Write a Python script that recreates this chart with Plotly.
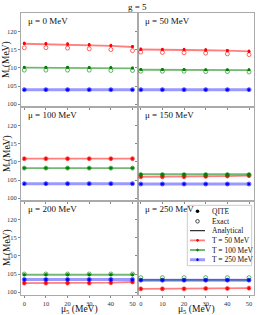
import plotly.graph_objects as go
from plotly.subplots import make_subplots

mu5 = [0, 10, 20, 30, 40, 50]
panel_titles = ["μ = 0 MeV", "μ = 50 MeV", "μ = 100 MeV", "μ = 150 MeV", "μ = 200 MeV", "μ = 250 MeV"]
temps = ["T = 50 MeV", "T = 100 MeV", "T = 250 MeV"]

# QITE values per panel: [T50, T100, T250]
qite = [
    [[116.8, 116.7, 116.6, 116.4, 116.2, 115.9], [110.2, 110.2, 110.2, 110.1, 110.1, 110.0], [104.0] * 6],
    [[115.2, 115.1, 115.1, 115.0, 114.8, 114.6], [109.6, 109.6, 109.6, 109.5, 109.5, 109.5], [104.0] * 6],
    [[110.9] * 6, [108.3] * 6, [104.0] * 6],
    [[105.9, 105.9, 105.9, 106.0, 106.1, 106.2], [106.6] * 6, [103.9] * 6],
    [[102.5, 102.5, 102.5, 102.5, 102.6, 102.8], [104.8] * 6, [103.5] * 6],
    [[100.9, 100.9, 100.9, 101.0, 101.0, 101.1], [103.4] * 6, [103.3] * 6],
]
exact = [
    [[115.6, 115.6, 115.5, 115.3, 115.1, 114.8], [109.4, 109.4, 109.4, 109.4, 109.3, 109.3], [104.0] * 6],
    [[114.4, 114.3, 114.2, 114.1, 113.9, 113.7], [109.1, 109.1, 109.1, 109.0, 109.0, 108.9], [104.0] * 6],
    [[110.9] * 6, [108.3] * 6, [104.0] * 6],
    [[105.9, 105.9, 105.9, 106.0, 106.1, 106.2], [106.5] * 6, [103.9] * 6],
    [[102.5, 102.5, 102.5, 102.5, 102.6, 102.8], [105.0] * 6, [103.5] * 6],
    [[100.9, 100.9, 100.9, 101.0, 101.0, 101.1], [104.0] * 6, [103.3] * 6],
]
analytical = [
    [[116.7, 116.6, 116.5, 116.3, 116.1, 115.8], [110.1, 110.1, 110.1, 110.0, 110.0, 109.9], [104.0] * 6],
    [[115.1, 115.1, 115.0, 114.9, 114.8, 114.6], [109.5, 109.5, 109.5, 109.5, 109.4, 109.4], [104.0] * 6],
    [[110.9] * 6, [108.3] * 6, [104.0] * 6],
    [[105.9, 105.9, 105.9, 106.0, 106.1, 106.2], [106.6] * 6, [103.9] * 6],
    [[102.5, 102.5, 102.5, 102.5, 102.6, 102.8], [104.8] * 6, [103.5] * 6],
    [[100.9, 100.9, 100.9, 101.0, 101.0, 101.1], [103.4] * 6, [103.3] * 6],
]
qite_err = [0.3, 0.2, 0.15]

yticks = [100, 105, 110, 115, 120]
xticks = [0, 10, 20, 30, 40, 50]

mk_colors = ["rgb(255,0,0)", "rgb(0,128,0)", "rgb(0,0,255)"]
ln_colors = ["rgba(255,0,0,0.5)", "rgba(0,128,0,0.55)", "rgba(0,0,255,0.4)"]
ln_widths = [1.8, 1.8, 3]
ex_colors = ["rgba(255,0,0,0.6)", "rgba(0,128,0,0.6)", "rgba(0,0,255,0.6)"]

FONT = "Liberation Serif"
TXT = "#111111"

fig = make_subplots(rows=3, cols=2, shared_xaxes=True, shared_yaxes=True,
                    horizontal_spacing=0, vertical_spacing=0)

for p in range(6):
    r, c = p // 2 + 1, p % 2 + 1
    for k in range(3):
        fig.add_trace(go.Scatter(x=mu5, y=analytical[p][k], mode="lines",
                                 line=dict(color=ln_colors[k], width=ln_widths[k]),
                                 showlegend=False, hoverinfo="skip"), row=r, col=c)
        fig.add_trace(go.Scatter(x=mu5, y=exact[p][k], mode="markers",
                                 marker=dict(symbol="circle-open", size=4, color=ex_colors[k],
                                             line=dict(width=1, color=ex_colors[k])),
                                 showlegend=False, hoverinfo="skip"), row=r, col=c)
        fig.add_trace(go.Scatter(x=mu5, y=qite[p][k], mode="markers",
                                 marker=dict(symbol="circle", size=3, color=mk_colors[k]),
                                 error_y=dict(type="constant", value=qite_err[k], color=mk_colors[k],
                                              thickness=1, width=1),
                                 showlegend=False, hoverinfo="skip"), row=r, col=c)
    fig.add_annotation(text=panel_titles[p], xref=f"x{p+1 if p else ''} domain",
                       yref=f"y{p+1 if p else ''} domain", x=0.045, y=0.92,
                       xanchor="left", yanchor="middle", showarrow=False,
                       font=dict(family=FONT, size=9, color=TXT))

fig.update_xaxes(range=[-1.5, 52.3], tickvals=xticks, showline=True, mirror=True, automargin=False,
                 linecolor="#aaaaaa", linewidth=1, showgrid=False, zeroline=False,
                 ticks="outside", ticklen=2, tickcolor="#888",
                 tickfont=dict(family=FONT, size=6.5, color="#333"))
fig.update_yaxes(range=[99.2, 125.2], tickvals=yticks, showline=True, mirror=True, automargin=False,
                 linecolor="#aaaaaa", linewidth=1, showgrid=False, zeroline=False,
                 ticks="outside", ticklen=2, tickcolor="#888",
                 tickfont=dict(family=FONT, size=6.5, color="#333"))

# axis titles as annotations (plot area: x 21..254, y 13..295 px)
PW, PH = 233.0, 282.0
def px(x):
    return (x - 21) / PW
def py(y):
    return (295 - y) / PH

for yc in [60, 154, 248]:
    fig.add_annotation(text="M (MeV)", xref="paper", yref="paper", x=px(7), y=py(yc),
                       textangle=-90, showarrow=False, xanchor="center", yanchor="middle",
                       font=dict(family=FONT, size=9.5, color=TXT))
for xc in [79, 196]:
    fig.add_annotation(text="μ<sub>5</sub> (MeV)", xref="paper", yref="paper", x=px(xc), y=py(309),
                       showarrow=False, xanchor="center", yanchor="middle",
                       font=dict(family=FONT, size=9.5, color=TXT))

# legend (box 187..252 x 205..266 px)
lx0, lx1, ly_top, ly_bot = 187.3, 251.7, 205.3, 265.7
fig.update_layout(
    xaxis7=dict(domain=[px(lx0), px(lx1)], anchor="y7", range=[lx0, lx1], visible=False,
                fixedrange=True, automargin=False),
    yaxis7=dict(domain=[py(ly_bot), py(ly_top)], anchor="x7", range=[ly_bot, ly_top],
                visible=False, fixedrange=True, automargin=False),
)
leg_rows = [211.3, 221.3, 230.7, 240.3, 250.0, 259.7]
leg_labels = ["QITE", "Exact", "Analytical"] + temps
sx0, sxm, sx1, tx = 190.0, 197.5, 205.0, 210.0
fig.add_shape(type="rect", xref="paper", yref="paper", x0=px(lx0), x1=px(lx1), y0=py(ly_bot), y1=py(ly_top),
              line=dict(color="#cccccc", width=1), fillcolor="rgba(0,0,0,0)")
fig.add_trace(go.Scatter(x=[sxm], y=[leg_rows[0]], mode="markers", marker=dict(size=3.5, color="black"),
                         xaxis="x7", yaxis="y7", showlegend=False, hoverinfo="skip"))
fig.add_trace(go.Scatter(x=[sxm], y=[leg_rows[1]], mode="markers",
                         marker=dict(size=3.5, symbol="circle-open", color="#444", line=dict(width=1)),
                         xaxis="x7", yaxis="y7", showlegend=False, hoverinfo="skip"))
fig.add_trace(go.Scatter(x=[sx0, sx1], y=[leg_rows[2]] * 2, mode="lines", line=dict(color="#333", width=1.3),
                         xaxis="x7", yaxis="y7", showlegend=False, hoverinfo="skip"))
for k in range(3):
    fig.add_trace(go.Scatter(x=[sx0, sx1], y=[leg_rows[3 + k]] * 2, mode="lines",
                             line=dict(color=ln_colors[k], width=ln_widths[k]),
                             xaxis="x7", yaxis="y7", showlegend=False, hoverinfo="skip"))
    fig.add_trace(go.Scatter(x=[sxm], y=[leg_rows[3 + k]], mode="markers",
                             marker=dict(size=2.5, color=mk_colors[k]),
                             error_y=dict(type="constant", value=1.2, color=mk_colors[k], thickness=1, width=0),
                             xaxis="x7", yaxis="y7", showlegend=False, hoverinfo="skip"))
for i, lab in enumerate(leg_labels):
    fig.add_annotation(text=lab, xref="paper", yref="paper", x=px(tx), y=py(leg_rows[i]), xanchor="left",
                       yanchor="middle", showarrow=False, font=dict(family=FONT, size=7.5, color=TXT))

fig.update_layout(
    width=269, height=315,
    margin=dict(l=21, r=15, t=13, b=20, autoexpand=False),
    paper_bgcolor="white", plot_bgcolor="white",
    title=dict(text="g = 5", x=0.51, xanchor="center", y=0.978, yanchor="middle",
               font=dict(family=FONT, size=9, color=TXT)),
    showlegend=False,
)

fig.write_html("out.html", config={"displayModeBar": False},
               post_script="document.body.style.margin='0px';")
